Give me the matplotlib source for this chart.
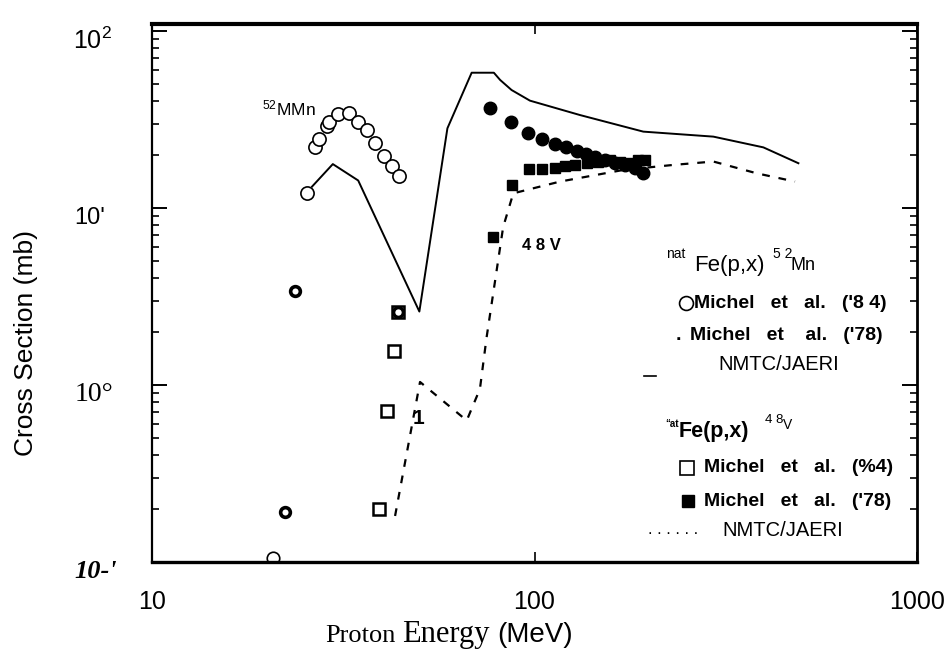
import matplotlib
matplotlib.use("Agg")
import matplotlib.pyplot as plt
from matplotlib.transforms import offset_copy

plt.rcParams['font.family'] = ['Liberation Sans', 'DejaVu Sans']
plt.rcParams['mathtext.default'] = 'regular'

# 52Mn, Michel et al. ('84) - open circles
mn84_x = [25.4, 26.7, 27.4, 28.7, 29.1, 30.7, 32.7, 34.6, 36.4, 38.3, 40.4, 42.3, 44.3]
mn84_y = [12.2, 22.0, 24.4, 29.0, 30.7, 34.0, 34.5, 30.7, 27.4, 23.2, 19.7, 17.3, 15.2]
# low points that came out as bold "o" in the scan
mn84_low_x = [23.7, 22.3]
mn84_low_y = [3.41, 0.192]
mn84_edge_x = [20.7]
mn84_edge_y = [0.105]

# 52Mn, Michel et al. ('78) - filled circles
mn78_x = [76.5, 86.7, 96.4, 104.4, 113, 120.8, 128.8, 136.4, 143.9, 152.9, 162.4, 172.5, 183.1, 192.5]
mn78_y = [36.6, 30.7, 26.6, 24.4, 23.0, 22.0, 21.1, 20.2, 19.3, 18.7, 18.0, 17.5, 16.8, 15.8]

# 48V, Michel et al. ('84) - open squares
v84_x = [44.0, 42.8, 41.1, 39.3]
v84_y = [2.58, 1.56, 0.713, 0.199]

# 48V, Michel et al. ('78) - filled squares
v78_x = [77.8, 87.1, 96.8, 104.4, 113, 120.2, 127.6, 136.8, 146.8, 157.5, 167.3, 177.7, 186.8, 194.5]
v78_y = [6.89, 13.5, 16.5, 16.5, 16.8, 17.3, 17.5, 17.9, 18.3, 18.7, 18.3, 18.0, 18.7, 18.7]

# NMTC/JAERI 52Mn - solid
calc_mn_x = [26.2, 29.7, 34.6, 50.0, 59.2, 68.5, 78.3, 81.3, 87.1, 97.3, 131.5, 192.5, 293.5, 396.6, 489.7]
calc_mn_y = [13.2, 17.7, 14.3, 2.6, 28.2, 58.1, 58.1, 52.9, 46.4, 40.4, 33.5, 27.0, 25.3, 22.0, 17.9]

# NMTC/JAERI 48V - dashed
calc_v_x = [43.2, 50.2, 66.5, 72.0, 74.9, 82.8, 88.0, 116.6, 170.6, 230, 293.5, 381, 479.8]
calc_v_y = [0.182, 1.04, 0.63, 0.95, 1.84, 7.8, 12.1, 14.1, 16.4, 17.5, 18.3, 15.7, 14.1]

W, H = 944, 651
L, R, T, B = 152, 917, 24, 562

fig = plt.figure(figsize=(W / 100, H / 100), dpi=100)
ax = fig.add_axes([L / W, (H - B) / H, (R - L) / W, (B - T) / H])
ax.set_xscale('log')
ax.set_yscale('log')
ax.set_xlim(10, 1000)
ax.set_ylim(0.1, 109.5)


def axp(px, py):
    # pixel position in the picture -> axes fraction
    return (px - L) / (R - L), (B - py) / (B - T)


def label(px, py, s, **kw):
    kw.setdefault('va', 'center')
    ax.text(*axp(px, py), s, transform=ax.transAxes, **kw)


ax.plot(calc_mn_x, calc_mn_y, color='black', lw=1.4)
ax.plot(calc_v_x, calc_v_y, color='black', lw=1.6, dashes=(3.5, 4))

ax.plot(mn84_x, mn84_y, 'o', ms=9.5, mfc='white', mec='black', mew=1.2)
ax.plot(mn84_low_x, mn84_low_y, 'o', ms=7, mfc='white', mec='black', mew=2.6)
ax.plot(mn84_edge_x, mn84_edge_y, 'o', ms=9, mfc='white', mec='black', mew=1.2)
ax.plot(mn78_x, mn78_y, 'o', ms=9, color='black')
ax.plot(v84_x, v84_y, 's', ms=8, mfc='white', mec='black', mew=1.8)
ax.plot(v78_x, v78_y, 's', ms=7.5, color='black')
ax.plot(v84_x[:1], v84_y[:1], 'o', ms=7, mfc='none', mec='black', mew=2.4)

# axes styling
for side, lw in [('top', 3.0), ('bottom', 2.4), ('left', 1.6), ('right', 2.0)]:
    ax.spines[side].set_linewidth(lw)
ax.tick_params(axis='both', which='both', direction='in', top=True, right=True)
ax.tick_params(axis='y', which='major', length=11, width=1.4)
ax.tick_params(axis='y', which='minor', length=5, width=1.2)
ax.tick_params(axis='x', which='major', length=7, width=1.2, pad=20, labelsize=18)
ax.xaxis.set_minor_locator(matplotlib.ticker.NullLocator())
ax.set_xticks([10, 100, 1000], ['10', '100', '1000'])
ax.set_yticks([0.1, 1, 10, 100])
ax.set_yticklabels([])

ylab_tr = offset_copy(ax.get_yaxis_transform(), fig=fig, x=0, y=-10, units='dots')
ax.text(-40 / 765, 100, '10$^2$', transform=ylab_tr, ha='right', va='center', fontsize=18)
ax.text(-47 / 765, 10, "10'", transform=ylab_tr, ha='right', va='center', fontsize=17)
ax.text(-39 / 765, 1, '10°', transform=ylab_tr, ha='right', va='center', fontsize=20,
        family='Liberation Serif')
ax.text(-35 / 765, 0.1, "10-'", transform=ylab_tr, ha='right', va='center', fontsize=19,
        family='Liberation Serif', style='italic', fontweight='bold')

fig.text(26 / W, 1 - 343 / H, 'Cross Section (mb)', rotation=90, ha='center', va='center',
         fontsize=19)
fig.text(325 / W, 1 - 642 / H, 'Proton', family='Liberation Serif', fontsize=19, va='baseline')
fig.text(402 / W, 1 - 642 / H, 'Energy', family='Liberation Serif', fontsize=22, va='baseline')
fig.text(497 / W, 1 - 642 / H, '(MeV)', fontsize=20, va='baseline')

# labels inside the plot
label(262, 108, '$^{52}$MMn', fontsize=12.5)
label(522, 245, '4 8 V', fontsize=12, fontweight='bold')
label(418, 418, '1', fontsize=15, fontweight='bold', ha='center')

# legend block, written as in the scan
label(666, 254, 'nat', fontsize=10)
label(694, 266, 'Fe(p,x)', fontsize=16)
label(773, 254, '5 2', fontsize=10)
label(790, 266, 'Mn', fontsize=13)

ax.plot(*axp(686, 303), 'o', ms=10, mfc='white', mec='black', mew=1.2,
        transform=ax.transAxes, clip_on=False)
label(694, 303, "Michel   et   al.   ('8 4)", fontsize=14, fontweight='bold')
label(676, 335, ".", fontsize=14, fontweight='bold')
label(690, 335, "Michel   et    al.   ('78)", fontsize=14, fontweight='bold')
label(718, 365, 'NMTC/JAERI', fontsize=14.5)
ax.plot(*zip(axp(644, 376), axp(656, 376)), color='black', lw=1.2,
        transform=ax.transAxes, clip_on=False)

label(665, 424, '\u201cat', fontsize=7, fontweight='bold')
label(679, 431, 'Fe(p,x)', fontsize=15.5, fontweight='bold')
label(765, 420, '4 8', fontsize=9.5)
label(783, 425, 'V', fontsize=10)
ax.plot(*axp(687, 468), 's', ms=10, mfc='white', mec='black', mew=1.2,
        transform=ax.transAxes, clip_on=False)
label(704, 468, "Michel   et   al.   (%4)", fontsize=14, fontweight='bold')
ax.plot(*axp(688, 501), 's', ms=9, color='black', transform=ax.transAxes, clip_on=False)
label(704, 501, "Michel   et   al.   ('78)", fontsize=14, fontweight='bold')
label(648, 530, '. . . . . .', fontsize=12)
label(722, 530, 'NMTC/JAERI', fontsize=14.5)

fig.savefig('out.png', dpi=100)
